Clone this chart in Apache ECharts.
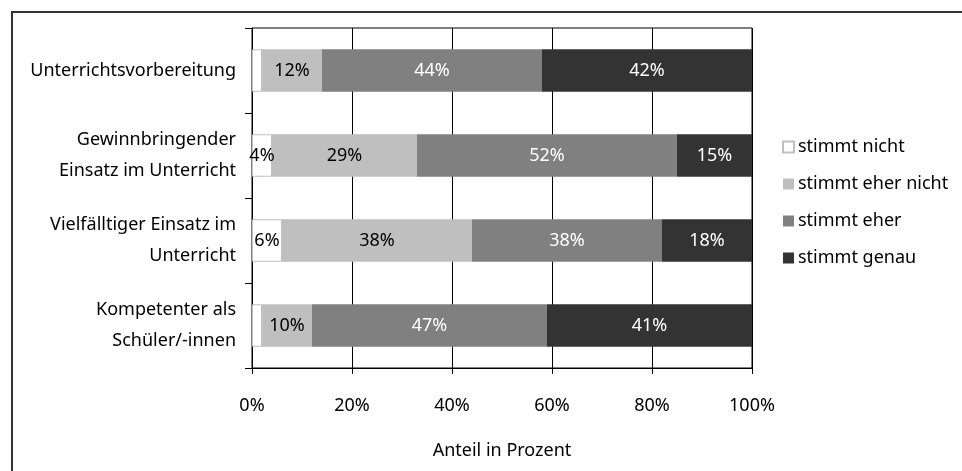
<!DOCTYPE html>
<html>
<head>
<meta charset="utf-8">
<script src="https://cdn.jsdelivr.net/npm/echarts@6/dist/echarts.min.js"></script>
<style>
html,body{margin:0;padding:0;background:#fff;}
#chart{width:962px;height:471px;}
</style>
</head>
<body>
<div id="chart"></div>
<script>
const categories = [
  'Unterrichtsvorbereitung',
  'Gewinnbringender\nEinsatz im Unterricht',
  'Vielfälltiger Einsatz im\nUnterricht',
  'Kompetenter als\nSchüler/-innen'
];
const seriesNames = ['stimmt nicht', 'stimmt eher nicht', 'stimmt eher', 'stimmt genau'];
const stimmtNicht = [2, 4, 6, 2];
const stimmtEherNicht = [12, 29, 38, 10];
const stimmtEher = [44, 52, 38, 47];
const stimmtGenau = [42, 15, 18, 41];
const xTicks = [0, 20, 40, 60, 80, 100];

const FONT = 'Noto Sans';
const FS = 18;
const colors = ['#ffffff', '#bfbfbf', '#808080', '#333333'];
const labelColors = ['#000', '#000', '#fff', '#fff'];
const dataSets = [stimmtNicht, stimmtEherNicht, stimmtEher, stimmtGenau];

const chart = echarts.init(document.getElementById('chart'), null, {renderer: 'canvas'});
chart.setOption({
  animation: false,
  textStyle: {fontFamily: FONT},
  graphic: [{
    type: 'rect',
    shape: {x: 12, y: 12, width: 1200, height: 1200},
    style: {fill: 'none', stroke: '#333', lineWidth: 2},
    silent: true
  }],
  grid: {
    left: 252, right: 210, top: 28, bottom: 103,
    show: true, borderColor: '#000', borderWidth: 1, backgroundColor: 'transparent'
  },
  legend: {
    orient: 'vertical',
    left: 777, top: 133,
    itemWidth: 11, itemHeight: 11, itemGap: 19,
    icon: 'rect',
    textStyle: {fontFamily: FONT, fontSize: FS, color: '#000', padding: [0, 0, 0, -1]},
    data: seriesNames
  },
  xAxis: {
    type: 'value', min: xTicks[0], max: xTicks[xTicks.length - 1], interval: 20,
    name: 'Anteil in Prozent', nameLocation: 'middle', nameGap: 74,
    nameTextStyle: {fontFamily: FONT, fontSize: FS, color: '#000'},
    axisLine: {show: true, lineStyle: {color: '#000', width: 1}},
    axisTick: {show: true, length: 6, lineStyle: {color: '#000'}},
    splitLine: {show: true, lineStyle: {color: '#000', width: 1}},
    axisLabel: {formatter: '{value}%', fontFamily: FONT, fontSize: FS, color: '#000', margin: 29}
  },
  yAxis: {
    type: 'category', data: categories, inverse: true,
    axisLine: {show: true, lineStyle: {color: '#000', width: 1}},
    axisTick: {show: true, length: 7, alignWithLabel: false, lineStyle: {color: '#000'}},
    axisLabel: {fontFamily: FONT, fontSize: FS, color: '#000', margin: 16, lineHeight: 31, align: 'right'},
    splitLine: {show: false}
  },
  series: dataSets.map((d, i) => ({
    name: seriesNames[i],
    type: 'bar',
    stack: 'total',
    barWidth: '50%',
    data: d,
    itemStyle: i === 0 ? {color: colors[i], borderColor: '#bfbfbf', borderWidth: 1} : {color: colors[i]},
    label: {
      show: true, position: 'inside',
      fontFamily: FONT, fontSize: FS, color: labelColors[i],
      formatter: p => p.value >= 3 ? p.value + '%' : ''
    }
  }))
});
</script>
</body>
</html>
